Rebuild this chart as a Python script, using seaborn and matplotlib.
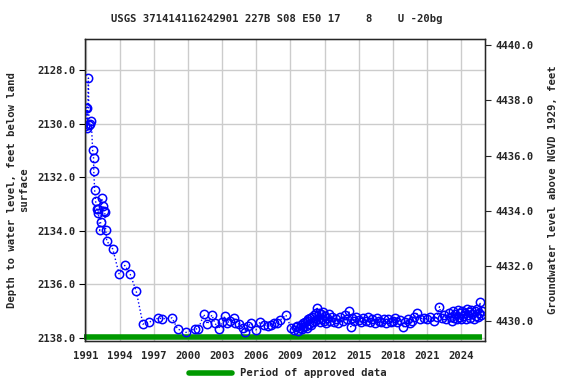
import numpy as np
import pandas as pd
import matplotlib
matplotlib.use("Agg")
import matplotlib.pyplot as plt
from matplotlib.lines import Line2D
import seaborn as sns

# Water level record (decimal year, depth below land surface in feet)
years = [
    1990.98, 1991.05, 1991.10, 1991.15, 1991.25, 1991.30, 1991.40, 1991.50,
    1991.62, 1991.70, 1991.72, 1991.80, 1991.88, 1991.97, 1992.06, 1992.10,
    1992.24, 1992.33, 1992.42, 1992.50, 1992.60, 1992.68, 1992.77, 1992.86,
    1993.39, 1993.95, 1994.45, 1994.92, 1995.45, 1996.04, 1996.58, 1997.40,
    1997.75, 1998.60, 1999.08, 1999.82, 2000.58, 2000.90, 2001.40, 2001.70,
    2002.10, 2002.35, 2002.70, 2003.00, 2003.24, 2003.40, 2003.70, 2004.00,
    2004.10, 2004.50, 2004.87, 2005.00, 2005.30, 2005.54, 2005.96, 2006.34,
    2006.70, 2007.00, 2007.30, 2007.55, 2007.80, 2008.10, 2008.60, 2009.08,
    2009.30, 2009.50, 2009.60, 2009.70, 2009.80, 2009.90, 2010.00, 2010.08,
    2010.15, 2010.25, 2010.33, 2010.42, 2010.50, 2010.58, 2010.67, 2010.75,
    2010.83, 2010.92, 2011.00, 2011.08, 2011.17, 2011.25, 2011.35, 2011.42,
    2011.50, 2011.58, 2011.67, 2011.75, 2011.83, 2011.92, 2012.00, 2012.10,
    2012.20, 2012.35, 2012.50, 2012.65, 2012.80, 2013.00, 2013.20, 2013.40,
    2013.60, 2013.80, 2014.00, 2014.15, 2014.30, 2014.45, 2014.60, 2014.80,
    2015.00, 2015.20, 2015.40, 2015.60, 2015.80, 2016.00, 2016.20, 2016.40,
    2016.60, 2016.80, 2017.00, 2017.20, 2017.40, 2017.60, 2017.80, 2018.00,
    2018.20, 2018.40, 2018.60, 2018.90, 2019.10, 2019.30, 2019.50, 2019.70,
    2019.90, 2020.10, 2020.40, 2020.70, 2021.00, 2021.30, 2021.60, 2021.90,
    2022.10, 2022.30, 2022.50, 2022.70, 2022.90, 2023.10, 2023.20, 2023.30,
    2023.40, 2023.50, 2023.60, 2023.70, 2023.80, 2023.90, 2024.00, 2024.10,
    2024.20, 2024.30, 2024.40, 2024.50, 2024.60, 2024.70, 2024.80, 2024.90,
    2025.00, 2025.10, 2025.20, 2025.30, 2025.40, 2025.50, 2025.60, 2025.66,
    2025.75, 2025.85,
]
depth = [
    2130.10, 2129.42, 2129.40, 2130.15, 2128.30, 2130.05, 2130.00, 2129.90,
    2130.99, 2131.28, 2131.78, 2132.49, 2132.89, 2133.19, 2133.35, 2133.20,
    2133.98, 2133.66, 2132.79, 2133.07, 2133.25, 2133.28, 2133.98, 2134.38,
    2134.68, 2135.62, 2135.29, 2135.62, 2136.25, 2137.48, 2137.41, 2137.25,
    2137.28, 2137.25, 2137.66, 2137.79, 2137.66, 2137.66, 2137.12, 2137.48,
    2137.14, 2137.43, 2137.66, 2137.40, 2137.18, 2137.45, 2137.35, 2137.27,
    2137.43, 2137.48, 2137.64, 2137.76, 2137.55, 2137.45, 2137.70, 2137.39,
    2137.51, 2137.55, 2137.51, 2137.45, 2137.45, 2137.33, 2137.14, 2137.64,
    2137.70, 2137.60, 2137.55, 2137.72, 2137.62, 2137.50, 2137.68, 2137.45,
    2137.60, 2137.40, 2137.55, 2137.35, 2137.62, 2137.30, 2137.48, 2137.25,
    2137.50, 2137.20, 2137.42, 2137.15, 2137.35, 2137.08, 2136.89, 2137.30,
    2137.05, 2137.40, 2137.12, 2137.28, 2137.02, 2137.35, 2137.18, 2137.45,
    2137.25, 2137.10, 2137.35, 2137.22, 2137.40, 2137.30, 2137.45, 2137.20,
    2137.35, 2137.15, 2137.30, 2137.00, 2137.58, 2137.25, 2137.38, 2137.20,
    2137.32, 2137.40, 2137.25, 2137.35, 2137.22, 2137.40, 2137.30, 2137.45,
    2137.25, 2137.35, 2137.40, 2137.28, 2137.45, 2137.30, 2137.40, 2137.35,
    2137.25, 2137.40, 2137.32, 2137.60, 2137.40, 2137.30, 2137.45, 2137.35,
    2137.20, 2137.08, 2137.28, 2137.25, 2137.30, 2137.22, 2137.35, 2137.20,
    2136.83, 2137.25, 2137.15, 2137.30, 2137.05, 2137.20, 2137.35, 2137.00,
    2137.25, 2137.12, 2137.30, 2136.95, 2137.20, 2137.08, 2137.30, 2136.98,
    2137.18, 2137.05, 2137.28, 2136.90, 2137.15, 2137.02, 2137.25, 2136.95,
    2137.12, 2137.30, 2137.00, 2137.18, 2136.92, 2137.20, 2137.05, 2136.67,
    2137.15, 2137.00,
]

# Approved data period
approved_start = [1990.85]
approved_end = [2025.80]
approved_level = [2137.97]

x_ticks = [1991, 1994, 1997, 2000, 2003, 2006, 2009, 2012, 2015, 2018, 2021, 2024]
depth_ticks = [2128.0, 2130.0, 2132.0, 2134.0, 2136.0, 2138.0]
elev_ticks = [4430.0, 4432.0, 4434.0, 4436.0, 4438.0, 4440.0]

df = pd.DataFrame({"year": years, "depth": depth})

sns.set_style("white")
plt.rcParams["font.family"] = ["DejaVu Sans Mono"]
plt.rcParams["font.weight"] = "bold"

fs = 7.6

fig = plt.figure(figsize=(5.76, 3.84), dpi=100)
ax = fig.add_axes([0.1476, 0.112, 0.6944, 0.786])

ax.hlines(approved_level, approved_start, approved_end, color="#009900",
          linewidth=4, zorder=2, clip_on=False)
sns.lineplot(data=df, x="year", y="depth", ax=ax, estimator=None, sort=False,
             color="blue", linestyle=":", linewidth=1, marker="o",
             markersize=6, markerfacecolor="none", markeredgecolor="blue",
             markeredgewidth=1.1, zorder=3)

ax.set_xlim(1990.95, 2026.1)
ax.set_ylim(2138.11, 2126.85)
ax.set_xticks(x_ticks)
ax.set_xticklabels([str(t) for t in x_ticks])
ax.set_yticks(depth_ticks)
ax.set_yticklabels([f"{t:.1f}" for t in depth_ticks])
ax.grid(True, color="#cccccc", linewidth=1)
ax.set_axisbelow(True)
for s in ax.spines.values():
    s.set_color("black")
    s.set_linewidth(1)
ax.tick_params(axis="both", labelsize=fs, length=4, color="black",
               direction="out", left=True, bottom=False, pad=3)
ax.set_xlabel("")
ax.set_ylabel("Depth to water level, feet below land\nsurface", fontsize=fs,
              fontweight="bold", labelpad=6)

ax2 = ax.twinx()
ax2.set_ylim(4429.28, 4440.22)
ax2.set_yticks(elev_ticks)
ax2.set_yticklabels([f"{t:.1f}" for t in elev_ticks])
ax2.tick_params(axis="y", labelsize=fs, length=4, direction="out", right=True)
ax2.grid(False)
ax2.set_ylabel("Groundwater level above NGVD 1929, feet", fontsize=fs,
               fontweight="bold", labelpad=10)

fig.text(0.481, 0.95, "USGS 371414116242901 227B S08 E50 17    8    U -20bg",
         fontsize=fs, fontweight="bold", ha="center", va="center")

handle = Line2D([0], [0], color="#009900", linewidth=4)
fig.legend([handle], ["Period of approved data"], loc="center",
           bbox_to_anchor=(0.5, 0.028), frameon=False, fontsize=fs,
           handlelength=4, handletextpad=0.8, borderaxespad=0)

fig.savefig("out.png", dpi=100)
